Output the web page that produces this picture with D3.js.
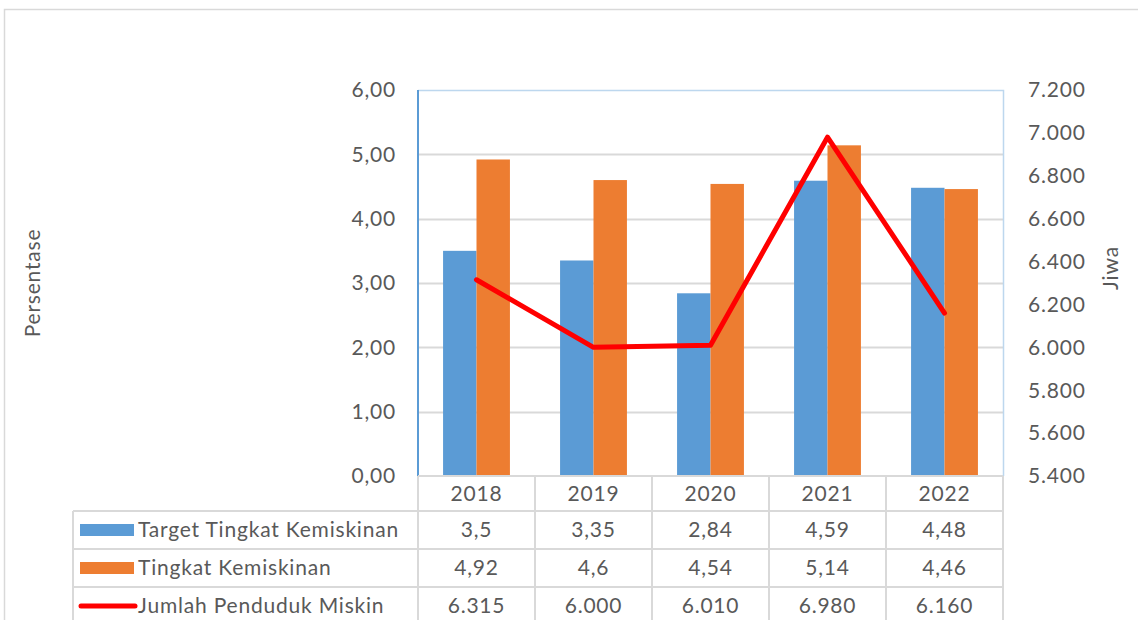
<!DOCTYPE html>
<html>
<head>
<meta charset="utf-8">
<script src="https://cdn.jsdelivr.net/npm/d3@7"></script>
<style>
  body { margin: 0; background: #fff; }
  svg text { font-family: Lato, "Noto Sans", sans-serif; fill: #595959; font-size: 21px; letter-spacing: 0.8px; }
</style>
</head>
<body>
<svg id="chart"></svg>
<script>
// data
const years = ['2018', '2019', '2020', '2021', '2022'];
const targetRate = [3.5, 3.35, 2.84, 4.59, 4.48];
const povertyRate = [4.92, 4.6, 4.54, 5.14, 4.46];
const poorPeople = [6315, 6000, 6010, 6980, 6160];
const leftTicks = [0, 1, 2, 3, 4, 5, 6];
const rightTicks = [5400, 5600, 5800, 6000, 6200, 6400, 6600, 6800, 7000, 7200];

const seriesNames = ['Target Tingkat Kemiskinan', 'Tingkat Kemiskinan', 'Jumlah Penduduk Miskin'];
const tableLabels = [targetRate.map(d => String(d).replace('.', ',')),
  povertyRate.map(d => String(d).replace('.', ',')),
  poorPeople.map(d => d3.format(',')(d).replace(/,/g, '.'))];

const BLUE = '#5B9BD5', ORANGE = '#ED7D31', RED = '#FF0000', GRID = '#D9D9D9';

const width = 1138, height = 620;
const plot = { left: 418, right: 1003, top: 90, bottom: 476 };
const tableLeft = 73;
const rowEdges = [476, 511, 549, 587, 625];

const svg = d3.select('#chart').attr('width', width).attr('height', height);

// outer frame
svg.append('path')
  .attr('d', `M4.5,${height} V9.5 H${width}`)
  .attr('fill', 'none').attr('stroke', GRID).attr('stroke-width', 1.5);

const x0 = d3.scaleBand().domain(years).range([plot.left, plot.right]);
const x1 = d3.scaleBand().domain([0, 1]).range([0, x0.bandwidth()]).paddingOuter(0.75);
const yL = d3.scaleLinear().domain([0, 6]).range([plot.bottom, plot.top]);
const yR = d3.scaleLinear().domain([5400, 7200]).range([plot.bottom, plot.top]);

// gridlines
svg.append('g').selectAll('line')
  .data(leftTicks.filter(t => t > 0 && t < 6))
  .join('line')
  .attr('x1', plot.left).attr('x2', plot.right)
  .attr('y1', d => Math.round(yL(d)) + 0.5).attr('y2', d => Math.round(yL(d)) + 0.5)
  .attr('stroke', GRID).attr('stroke-width', 2);

// plot border (top and right)
svg.append('path')
  .attr('d', `M${plot.left},${plot.top + 0.5} H${plot.right + 0.5} V${plot.bottom}`)
  .attr('fill', 'none').attr('stroke', '#BDD7EE').attr('stroke-width', 1.5);

// bars
const bars = svg.append('g');
[targetRate, povertyRate].forEach((vals, s) => {
  bars.selectAll(null)
    .data(vals)
    .join('rect')
    .attr('x', (d, i) => x0(years[i]) + x1(s))
    .attr('width', x1.bandwidth())
    .attr('y', d => yL(d))
    .attr('height', d => yL(0) - yL(d))
    .attr('fill', s === 0 ? BLUE : ORANGE);
});

// left axis line
svg.append('line')
  .attr('x1', plot.left).attr('x2', plot.left)
  .attr('y1', plot.top).attr('y2', plot.bottom)
  .attr('stroke', BLUE).attr('stroke-width', 2);

// line series
const line = d3.line()
  .x((d, i) => x0(years[i]) + x0.bandwidth() / 2)
  .y(d => yR(d));
svg.append('path')
  .datum(poorPeople)
  .attr('d', line)
  .attr('fill', 'none').attr('stroke', RED)
  .attr('stroke-width', 5).attr('stroke-linejoin', 'round').attr('stroke-linecap', 'round');

// left tick labels
svg.append('g').selectAll('text')
  .data(leftTicks)
  .join('text')
  .attr('x', 396).attr('y', d => yL(d))
  .attr('dy', '0.35em').attr('text-anchor', 'end')
  .text(d => d3.format('.2f')(d).replace('.', ','));

// right tick labels
svg.append('g').selectAll('text')
  .data(rightTicks)
  .join('text')
  .attr('x', 1028).attr('y', d => yR(d))
  .attr('dy', '0.35em').attr('text-anchor', 'start')
  .text(d => d3.format(',')(d).replace(/,/g, '.'));

// axis titles
svg.append('text')
  .attr('transform', 'translate(40,283) rotate(-90)')
  .attr('text-anchor', 'middle')
  .text('Persentase');
svg.append('text')
  .attr('transform', 'translate(1118,268) rotate(-90)')
  .attr('text-anchor', 'middle')
  .text('Jiwa');

// data table
const table = svg.append('g');
const edgesX = years.map(y => x0(y)).concat([plot.right]);
table.selectAll('line.v')
  .data(edgesX)
  .join('line')
  .attr('x1', d => d).attr('x2', d => d)
  .attr('y1', plot.bottom).attr('y2', height)
  .attr('stroke', GRID).attr('stroke-width', 2);
table.append('line')
  .attr('x1', tableLeft).attr('x2', tableLeft)
  .attr('y1', rowEdges[1]).attr('y2', height)
  .attr('stroke', GRID).attr('stroke-width', 2);
table.selectAll('line.h')
  .data(rowEdges.slice(0, 4))
  .join('line')
  .attr('x1', (d, i) => i === 0 ? plot.left : tableLeft).attr('x2', plot.right)
  .attr('y1', d => d).attr('y2', d => d)
  .attr('stroke', GRID).attr('stroke-width', 2);

// header years
table.selectAll('text.year')
  .data(years)
  .join('text')
  .attr('x', d => x0(d) + x0.bandwidth() / 2)
  .attr('y', (rowEdges[0] + rowEdges[1]) / 2)
  .attr('dy', '0.35em').attr('text-anchor', 'middle')
  .text(d => d);

// value rows
tableLabels.forEach((vals, r) => {
  const cy = (rowEdges[r + 1] + rowEdges[r + 2]) / 2;
  table.selectAll(null)
    .data(vals)
    .join('text')
    .attr('x', (d, i) => x0(years[i]) + x0.bandwidth() / 2)
    .attr('y', cy)
    .attr('dy', '0.35em').attr('text-anchor', 'middle')
    .text(d => d);

  // legend key
  if (r < 2) {
    table.append('rect')
      .attr('x', 80).attr('y', cy - 6).attr('width', 54).attr('height', 12)
      .attr('fill', r === 0 ? BLUE : ORANGE);
  } else {
    table.append('line')
      .attr('x1', 81).attr('x2', 135).attr('y1', cy).attr('y2', cy)
      .attr('stroke', RED).attr('stroke-width', 5).attr('stroke-linecap', 'round');
  }
  table.append('text')
    .attr('x', 138).attr('y', cy)
    .attr('dy', '0.35em')
    .text(seriesNames[r]);
});
</script>
</body>
</html>
